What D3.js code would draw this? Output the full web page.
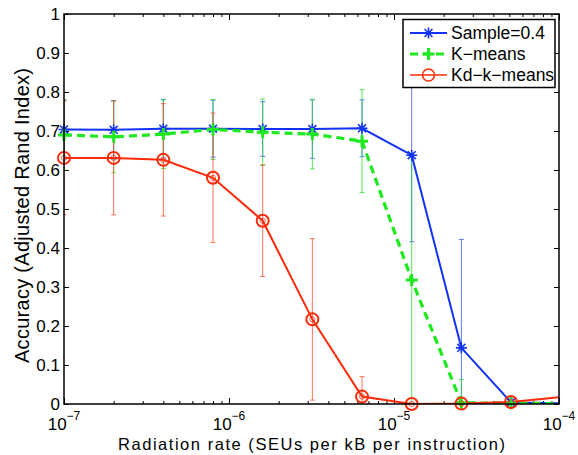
<!DOCTYPE html>
<html>
<head>
<meta charset="utf-8">
<script src="https://cdn.jsdelivr.net/npm/d3@7"></script>
<style>
  body { margin: 0; background: #fff; }
  svg { font-family: "Liberation Sans", Arial, Helvetica, sans-serif; }
</style>
</head>
<body>
<svg id="chart" width="578" height="455"></svg>
<script>
// Accuracy vs radiation rate, three clustering variants with error bars.

const rates = [1e-7, 2e-7, 4e-7, 8e-7, 1.6e-6, 3.2e-6, 6.4e-6, 1.28e-5, 2.56e-5, 5.12e-5, 1.024e-4];

const sampleMean = [0.704, 0.703, 0.706, 0.706, 0.705, 0.705, 0.707, 0.638, 0.144, 0.004, 0.002];
const sampleErr  = [0.075, 0.075, 0.075, 0.073, 0.070, 0.075, 0.073, 0.222, 0.278, 0.010, 0.004];

const kmeansMean = [0.690, 0.685, 0.692, 0.704, 0.697, 0.692, 0.674, 0.318, 0.003, 0.002, 0.001];
const kmeansErr  = [0.090, 0.092, 0.088, 0.077, 0.085, 0.089, 0.132, 0.320, 0.060, 0.005, 0.003];

const kdMean = [0.631, 0.631, 0.626, 0.580, 0.470, 0.217, 0.019, 0.000, 0.001, 0.005, 0.018];
const kdErr  = [0.146, 0.146, 0.144, 0.166, 0.143, 0.207, 0.051, 0.002, 0.003, 0.005, 0.010];

const yTicks = [0, 0.1, 0.2, 0.3, 0.4, 0.5, 0.6, 0.7, 0.8, 0.9, 1];
const xDecades = [1e-7, 1e-6, 1e-5, 1e-4];
const xDecadeLabels = ['\u22127', '\u22126', '\u22125', '\u22124'];

const seriesNames = ['Sample=0.4', 'K\u2212means', 'Kd\u2212k\u2212means'];

const series = [
  { name: seriesNames[0], mean: sampleMean, err: sampleErr, color: '#1233f5', errColor: '#2a4cff', marker: 'star', dash: null, width: 2 },
  { name: seriesNames[1], mean: kmeansMean, err: kmeansErr, color: '#1ee81e', errColor: '#22dd22', marker: 'plus', dash: '8,5', width: 3.2 },
  { name: seriesNames[2], mean: kdMean, err: kdErr, color: '#ff2a0a', errColor: '#ff4422', marker: 'circle', dash: null, width: 2 }
];

const margin = { left: 64, right: 19, top: 14, bottom: 51 };
const W = 578, H = 455;
const iw = W - margin.left - margin.right;
const ih = H - margin.top - margin.bottom;

const svg = d3.select('#chart');

const x = d3.scaleLog().domain([1e-7, 1e-4]).range([0, iw]);
const y = d3.scaleLinear().domain([0, 1]).range([ih, 0]);

svg.append('defs').append('clipPath')
  .attr('id', 'plot-clip')
  .append('rect')
  .attr('width', iw)
  .attr('height', ih);

const g = svg.append('g').attr('transform', `translate(${margin.left},${margin.top})`);

// Axes (MATLAB style: ticks inside, box all round)
const minorTicks = [];
for (let d = -7; d < -4; d++) {
  for (let k = 2; k <= 9; k++) minorTicks.push(k * Math.pow(10, d));
}

function tickLayer(axis, transform) {
  const a = g.append('g').attr('transform', transform).call(axis);
  a.select('.domain').remove();
  a.selectAll('.tick line').attr('stroke', '#000').attr('stroke-width', 1);
  a.selectAll('.tick text').remove();
  return a;
}

tickLayer(d3.axisBottom(x).tickValues(xDecades).tickSizeInner(-6).tickSizeOuter(0), `translate(0,${ih})`);
tickLayer(d3.axisBottom(x).tickValues(minorTicks).tickSizeInner(-3).tickSizeOuter(0), `translate(0,${ih})`);
tickLayer(d3.axisTop(x).tickValues(xDecades).tickSizeInner(-6).tickSizeOuter(0), 'translate(0,0)');
tickLayer(d3.axisTop(x).tickValues(minorTicks).tickSizeInner(-3).tickSizeOuter(0), 'translate(0,0)');
tickLayer(d3.axisLeft(y).tickValues(yTicks).tickSizeInner(-5).tickSizeOuter(0), 'translate(0,0)');
tickLayer(d3.axisRight(y).tickValues(yTicks).tickSizeInner(-5).tickSizeOuter(0), `translate(${iw},0)`);

// Tick labels
g.selectAll('.ylab')
  .data(yTicks)
  .enter().append('text')
  .attr('class', 'ylab')
  .attr('x', -4)
  .attr('y', d => y(d))
  .attr('dy', '0.36em')
  .attr('text-anchor', 'end')
  .attr('font-size', 17)
  .text(d => d3.format('~g')(d));

const xl = g.selectAll('.xlab')
  .data(xDecades)
  .enter().append('text')
  .attr('class', 'xlab')
  .attr('x', d => x(d))
  .attr('y', 430 - margin.top)
  .attr('text-anchor', 'middle')
  .attr('font-size', 17);
xl.append('tspan').text('10');
xl.append('tspan')
  .attr('dy', -10)
  .attr('font-size', 12)
  .text((d, i) => xDecadeLabels[i]);

// Axis titles
svg.append('text')
  .attr('x', 311.5)
  .attr('y', 449.5)
  .attr('text-anchor', 'middle')
  .attr('font-size', 16.5)
  .attr('textLength', 387)
  .attr('lengthAdjust', 'spacing')
  .text('Radiation rate (SEUs per kB per instruction)');

svg.append('text')
  .attr('transform', 'translate(29,215.5) rotate(-90)')
  .attr('text-anchor', 'middle')
  .attr('font-size', 20)
  .attr('textLength', 295)
  .attr('lengthAdjust', 'spacing')
  .text('Accuracy (Adjusted Rand Index)');

// Error bars
const plot = g.append('g').attr('clip-path', 'url(#plot-clip)');

series.forEach(s => {
  const eb = plot.append('g')
    .attr('stroke', s.errColor)
    .attr('stroke-width', 1)
    .attr('opacity', 0.75);
  rates.forEach((r, i) => {
    const cx = x(r);
    const lo = y(s.mean[i] - s.err[i]);
    const hi = y(s.mean[i] + s.err[i]);
    eb.append('line').attr('x1', cx).attr('x2', cx).attr('y1', lo).attr('y2', hi);
    eb.append('line').attr('x1', cx - 2.5).attr('x2', cx + 2.5).attr('y1', lo).attr('y2', lo);
    eb.append('line').attr('x1', cx - 2.5).attr('x2', cx + 2.5).attr('y1', hi).attr('y2', hi);
  });
});

// Mean lines
const line = d3.line()
  .x((d, i) => x(rates[i]))
  .y(d => y(d));

series.forEach(s => {
  plot.append('path')
    .datum(s.mean)
    .attr('fill', 'none')
    .attr('stroke', s.color)
    .attr('stroke-width', s.width)
    .attr('stroke-dasharray', s.dash)
    .attr('d', line);
});

// Markers
function drawMarker(sel, type, color, cx, cy, legend) {
  const m = sel.append('g').attr('transform', `translate(${cx},${cy})`);
  if (type === 'star') {
    const r = 5.5;
    const d = r * 0.72;
    m.append('path')
      .attr('d', `M${-r},0L${r},0M0,${-r}L0,${r}M${-d},${-d}L${d},${d}M${-d},${d}L${d},${-d}`)
      .attr('stroke', color).attr('stroke-width', 1.6).attr('fill', 'none');
  } else if (type === 'plus') {
    const r = 6;
    m.append('path')
      .attr('d', `M${-r},0L${r},0M0,${-r}L0,${r}`)
      .attr('stroke', color).attr('stroke-width', 3).attr('fill', 'none');
  } else {
    m.append('circle').attr('r', 6)
      .attr('stroke', color).attr('stroke-width', legend ? 1.5 : 2).attr('fill', 'none');
    if (!legend) {
      m.append('circle').attr('r', 2.6)
        .attr('stroke', color).attr('stroke-width', 1).attr('fill', 'none').attr('opacity', 0.7);
    }
  }
}

series.forEach(s => {
  const mg = g.append('g');
  rates.forEach((r, i) => {
    if (r > 1e-4) return;
    drawMarker(mg, s.marker, s.color, x(r), y(s.mean[i]), false);
  });
});

// Box
g.append('rect')
  .attr('width', iw)
  .attr('height', ih)
  .attr('fill', 'none')
  .attr('stroke', '#000')
  .attr('stroke-width', 1.5);

// Legend
const lg = svg.append('g').attr('transform', 'translate(403,19.5)');
lg.append('rect')
  .attr('width', 152)
  .attr('height', 68)
  .attr('fill', '#fff')
  .attr('stroke', '#000')
  .attr('stroke-width', 1.5);

series.forEach((s, i) => {
  const ly = 13.5 + i * 21;
  lg.append('line')
    .attr('x1', 7).attr('x2', 44)
    .attr('y1', ly).attr('y2', ly)
    .attr('stroke', s.color)
    .attr('stroke-width', s.marker === 'circle' ? 1.5 : s.width)
    .attr('stroke-dasharray', s.dash);
  drawMarker(lg, s.marker, s.color, 25.5, ly, true);
  lg.append('text')
    .attr('x', 48)
    .attr('y', ly)
    .attr('dy', '0.36em')
    .attr('font-size', 17.5)
    .text(s.name);
});
</script>
</body>
</html>
